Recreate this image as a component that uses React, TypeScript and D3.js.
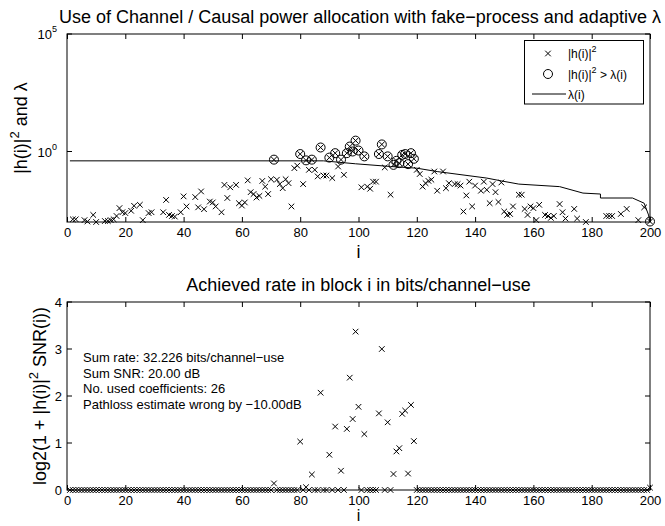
import * as d3 from "d3";
import { useEffect, useRef } from "react";

const W = 665
const H = 526
const FONT = "'Liberation Sans', Arial, Helvetica, sans-serif"

// |h(i)|^2 of coefficients that stay below lambda  [i, value]
const channelGain: [number, number][] = [
    [2, 0.0013], [3, 0.0013], [6, 0.0012], [7, 0.00105], [9, 0.002], [10, 0.001], [13, 0.0011], [14, 0.0011],
    [15, 0.0012], [16, 0.0013], [17, 0.0018], [18, 0.0039], [19, 0.0026], [20, 0.0024], [22, 0.003], [23, 0.0049],
    [25, 0.0054], [26, 0.0012], [28, 0.0024], [29, 0.0026], [33, 0.0026], [34, 0.0087], [35, 0.002], [36, 0.0018],
    [37, 0.0017], [39, 0.0026], [40, 0.0123], [41, 0.0046], [44, 0.0115], [45, 0.0042], [46, 0.02], [47, 0.0035],
    [49, 0.0074], [50, 0.0068], [51, 0.0046], [53, 0.0026], [54, 0.038], [55, 0.0105], [56, 0.03], [58, 0.038],
    [59, 0.0063], [60, 0.005], [61, 0.0068], [62, 0.059], [63, 0.0186], [64, 0.0155], [65, 0.011], [66, 0.0129],
    [67, 0.056], [68, 0.032], [69, 0.0155], [70, 0.066], [72, 0.063], [73, 0.041], [74, 0.0275], [75, 0.066],
    [76, 0.045], [77, 0.0046], [78, 0.195], [79, 0.25], [81, 0.041], [83, 0.166], [85, 0.166], [86, 0.087],
    [88, 0.095], [89, 0.095], [91, 0.074], [93, 0.23], [95, 0.102], [101, 0.03], [103, 0.032], [104, 0.026],
    [105, 0.052], [106, 0.052], [109, 0.21], [111, 0.0145], [120, 0.166], [121, 0.11], [122, 0.032], [123, 0.045],
    [124, 0.056], [125, 0.063], [126, 0.141], [127, 0.0214], [129, 0.141], [130, 0.0275], [131, 0.045], [133, 0.041],
    [134, 0.041], [135, 0.0355], [136, 0.0028], [137, 0.0135], [138, 0.052], [139, 0.0046], [140, 0.0355], [142, 0.0214],
    [143, 0.052], [144, 0.0234], [145, 0.0063], [146, 0.041], [147, 0.0186], [148, 0.0071], [149, 0.048], [150, 0.0028],
    [151, 0.002], [152, 0.0022], [153, 0.0046], [155, 0.0145], [156, 0.0145], [157, 0.0036], [158, 0.002], [159, 0.0046],
    [160, 0.0039], [161, 0.0012], [162, 0.0054], [164, 0.002], [165, 0.0018], [166, 0.0015], [167, 0.0018], [169, 0.0058],
    [170, 0.0026], [171, 0.0014], [174, 0.0036], [175, 0.0014], [178, 0.001], [185, 0.0018], [186, 0.0018], [187, 0.0018],
    [190, 0.0022], [192, 0.0036], [196, 0.0012], [198, 0.0042],
]

// used coefficients  [i, |h(i)|^2, rate]
const usedCoeffs: [number, number, number][] = [
    [71, 0.45, 0.14], [80, 0.78, 1.03], [82, 0.42, 0.06], [84, 0.45, 0.33], [87, 1.48, 2.07], [90, 0.55, 0.75],
    [92, 0.85, 1.35], [94, 0.45, 0.41], [96, 0.85, 1.3], [97, 1.62, 2.39], [98, 1.0, 1.51], [99, 2.9, 3.37],
    [100, 1.1, 1.77], [102, 0.62, 1.19], [107, 0.78, 1.63], [108, 2.0, 3.0], [110, 0.62, 1.44], [112, 0.27, 0.34],
    [113, 0.4, 0.82], [114, 0.32, 0.89], [115, 0.72, 1.62], [116, 0.78, 1.69], [117, 0.29, 0.35], [118, 0.85, 1.81],
    [119, 0.49, 1.04], [200, 0.00105, 0.05],
]

// adaptive lambda(i)
const lambdaKnots: [number, number][] = [
    [1, 0.4], [88, 0.4], [99, 0.3], [111, 0.23], [120, 0.195], [127, 0.14], [144, 0.074], [149, 0.056],
    [155, 0.041], [169, 0.032], [177, 0.017], [183, 0.0155], [183, 0.0105], [194, 0.0105], [198, 0.0063],
    [199.5, 0.002], [200, 0.001],
]

const xTicks = [0, 20, 40, 60, 80, 100, 120, 140, 160, 180, 200]
const topYTicks = [{ v: 1e5, exp: "5" }, { v: 1, exp: "0" }]
const rateTicks = [0, 1, 2, 3, 4]
const infoLines = [
    "Sum rate: 32.226 bits/channel\u2212use",
    "Sum SNR: 20.00 dB",
    "No. used coefficients: 26",
    "Pathloss estimate wrong by \u221210.00dB",
]

const cross = "M-2.8,-2.8L2.8,2.8M2.8,-2.8L-2.8,2.8"

export default function App() {
    const svgRef = useRef(null)

    useEffect(() => {
        const svg = d3.select(svgRef.current)
        svg.selectAll("*").remove()

        const x = d3.scaleLinear([0, 200], [67, 650])
        const yTop = d3.scaleLog([1e-3, 1e5], [222, 34])
        const yBot = d3.scaleLinear([0, 4], [490, 302])

        const frame = (y0: number, y1: number) => {
            svg.append("rect").attr("x", 67).attr("y", y0).attr("width", 583).attr("height", y1 - y0)
                .attr("fill", "white").attr("stroke", "black").attr("stroke-width", 1)
        }

        const xAxes = (y0: number, y1: number) => {
            const g = svg.append("g").attr("transform", `translate(0,${y1})`)
                .call(d3.axisBottom(x).tickValues(xTicks).tickSizeInner(-5).tickSizeOuter(0).tickPadding(6))
            g.select(".domain").remove()
            g.selectAll("text").attr("font-family", FONT).attr("font-size", 13).attr("fill", "black")
            const t = svg.append("g").attr("transform", `translate(0,${y0})`)
                .call(d3.axisTop(x).tickValues(xTicks).tickSizeInner(-5).tickSizeOuter(0).tickFormat(() => ""))
            t.select(".domain").remove()
        }

        // ---------- top plot ----------
        frame(34, 222)
        xAxes(34, 222)
        topYTicks.forEach(t => {
            const yy = yTop(t.v)
            svg.append("line").attr("x1", 67).attr("x2", 72).attr("y1", yy).attr("y2", yy).attr("stroke", "black")
            svg.append("line").attr("x1", 645).attr("x2", 650).attr("y1", yy).attr("y2", yy).attr("stroke", "black")
            const txt = svg.append("text").attr("x", 57).attr("y", yy + 5).attr("text-anchor", "end")
                .attr("font-family", FONT).attr("font-size", 13)
            txt.append("tspan").text("10")
            txt.append("tspan").attr("dy", -7).attr("font-size", 9).text(t.exp)
        })

        svg.append("path")
            .attr("fill", "none").attr("stroke", "black").attr("stroke-width", 1)
            .attr("d", d3.line<[number, number]>().x(d => x(d[0])).y(d => yTop(d[1]))(lambdaKnots))

        const allGain = [...channelGain, ...usedCoeffs.map(d => [d[0], d[1]] as [number, number])]
        svg.append("g").selectAll("path").data(allGain).join("path")
            .attr("d", cross).attr("transform", d => `translate(${x(d[0])},${yTop(d[1])})`)
            .attr("fill", "none").attr("stroke", "black").attr("stroke-width", 1)
        svg.append("g").selectAll("circle").data(usedCoeffs).join("circle")
            .attr("cx", d => x(d[0])).attr("cy", d => yTop(d[1])).attr("r", 4.5)
            .attr("fill", "none").attr("stroke", "black").attr("stroke-width", 1)

        // legend
        const lg = svg.append("g").attr("font-family", FONT).attr("font-size", 12)
        lg.append("rect").attr("x", 524.5).attr("y", 40.5).attr("width", 119).attr("height", 63.5)
            .attr("fill", "white").attr("stroke", "black")
        lg.append("path").attr("d", cross).attr("transform", "translate(548,53.5)").attr("stroke", "black").attr("fill", "none")
        lg.append("circle").attr("cx", 548).attr("cy", 74).attr("r", 4.5).attr("stroke", "black").attr("fill", "none")
        lg.append("line").attr("x1", 532).attr("x2", 566).attr("y1", 94).attr("y2", 94).attr("stroke", "black")
        const l1 = lg.append("text").attr("x", 568).attr("y", 58)
        l1.append("tspan").text("|h(i)|")
        l1.append("tspan").attr("dy", -6).attr("font-size", 9).text("2")
        const l2 = lg.append("text").attr("x", 568).attr("y", 78.5)
        l2.append("tspan").text("|h(i)|")
        l2.append("tspan").attr("dy", -6).attr("font-size", 9).text("2")
        l2.append("tspan").attr("dy", 6).text(" > \u03bb(i)")
        lg.append("text").attr("x", 568).attr("y", 98.5).text("\u03bb(i)")

        svg.append("text").attr("x", 360).attr("y", 23).attr("text-anchor", "middle")
            .attr("font-family", FONT).attr("font-size", 18)
            .text("Use of Channel / Causal power allocation with fake\u2212process and adaptive \u03bb")
        svg.append("text").attr("x", 358.5).attr("y", 258).attr("text-anchor", "middle")
            .attr("font-family", FONT).attr("font-size", 18).text("i")
        const yl1 = svg.append("text").attr("transform", "translate(27,128) rotate(-90)").attr("text-anchor", "middle")
            .attr("font-family", FONT).attr("font-size", 18)
        yl1.append("tspan").text("|h(i)|")
        yl1.append("tspan").attr("dy", -8).attr("font-size", 13).text("2")
        yl1.append("tspan").attr("dy", 8).text(" and \u03bb")

        // ---------- bottom plot ----------
        frame(302, 490)
        xAxes(302, 490)
        rateTicks.forEach(v => {
            const yy = yBot(v)
            svg.append("line").attr("x1", 67).attr("x2", 72).attr("y1", yy).attr("y2", yy).attr("stroke", "black")
            svg.append("line").attr("x1", 645).attr("x2", 650).attr("y1", yy).attr("y2", yy).attr("stroke", "black")
            svg.append("text").attr("x", 62).attr("y", yy + 4.5).attr("text-anchor", "end")
                .attr("font-family", FONT).attr("font-size", 13).text(v)
        })

        const usedMap = new Map(usedCoeffs.map(d => [d[0], d[2]]))
        const rates = d3.range(1, 201).map(i => [i, usedMap.get(i) ?? 0])
        svg.append("g").selectAll("path").data(rates).join("path")
            .attr("d", cross).attr("transform", d => `translate(${x(d[0])},${yBot(d[1])})`)
            .attr("fill", "none").attr("stroke", "black").attr("stroke-width", 1)

        svg.append("g").attr("font-family", FONT).attr("font-size", 13)
            .selectAll("text").data(infoLines).join("text")
            .attr("x", 83).attr("y", (d, k) => 362 + k * 15.5).text(d => d)

        svg.append("text").attr("x", 358.5).attr("y", 291).attr("text-anchor", "middle")
            .attr("font-family", FONT).attr("font-size", 18).text("Achieved rate in block i in bits/channel\u2212use")
        svg.append("text").attr("x", 358.5).attr("y", 521).attr("text-anchor", "middle")
            .attr("font-family", FONT).attr("font-size", 16).text("i")
        const yl2 = svg.append("text").attr("transform", "translate(46,396) rotate(-90)").attr("text-anchor", "middle")
            .attr("font-family", FONT).attr("font-size", 18)
        yl2.append("tspan").text("log2(1 + |h(i)|")
        yl2.append("tspan").attr("dy", -8).attr("font-size", 13).text("2")
        yl2.append("tspan").attr("dy", 8).text(" SNR(i))")
    }, [])

    return <svg ref={svgRef} width={W} height={H} viewBox={`0 0 ${W} ${H}`}
        style={{ position: "absolute", left: 0, top: 0, background: "white" }} xmlns="http://www.w3.org/2000/svg" />
}
